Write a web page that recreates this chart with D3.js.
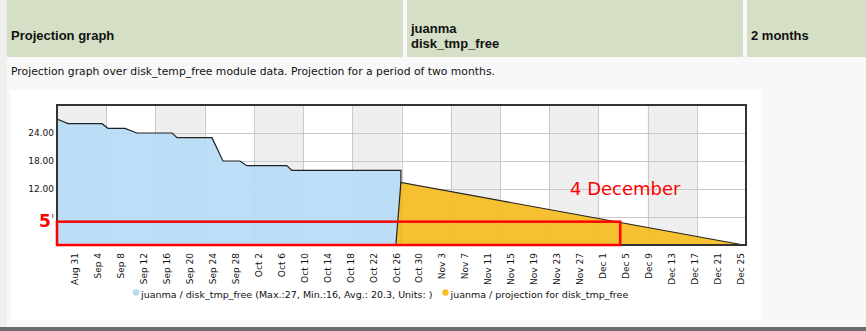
<!DOCTYPE html>
<html>
<head>
<meta charset="utf-8">
<script src="https://cdn.jsdelivr.net/npm/d3@7"></script>
<style>
  html, body { margin: 0; padding: 0; background: #f8f8f8; overflow: hidden; }
  svg { display: block; }
</style>
</head>
<body>
<svg id="chart" width="866" height="331"></svg>
<script>
// ---------- data ----------
const headerCells = ["Projection graph", "juanma\ndisk_tmp_free", "2 months"];
const description = "Projection graph over disk_temp_free module data. Projection for a period of two months.";

const realDates = ["2010-08-27T21:00","2010-08-29T19:00","2010-09-04T17:00","2010-09-05T18:00",
  "2010-09-08T17:00","2010-09-10T19:00","2010-09-16T22:00","2010-09-17T19:00",
  "2010-09-23T21:00","2010-09-25T19:00","2010-09-28T18:00","2010-09-29T23:00",
  "2010-10-06T22:00","2010-10-07T19:00","2010-10-26T19:00"];
const realValues = [27, 26, 26, 25, 25, 24, 24, 23, 23, 18, 18, 17, 17, 16, 16];

const projDates = ["2010-10-25T22:00", "2010-10-26T19:00", "2010-12-25T12:00"];
const projValues = [0, 13.4, 0];

const tickDates = ["2010-08-31","2010-09-04","2010-09-08","2010-09-12","2010-09-16","2010-09-20",
  "2010-09-24","2010-09-28","2010-10-02","2010-10-06","2010-10-10","2010-10-14","2010-10-18",
  "2010-10-22","2010-10-26","2010-10-30","2010-11-03","2010-11-07","2010-11-11","2010-11-15",
  "2010-11-19","2010-11-23","2010-11-27","2010-12-01","2010-12-05","2010-12-09","2010-12-13",
  "2010-12-17","2010-12-21","2010-12-25"];
const yTicks = [12, 18, 24];
const yMax = 30;
const yGrid = [6, 12, 18, 24];
const domainStart = "2010-08-27T21:00";
const domainEnd = "2010-12-25T22:00";
const gridBands = 14;

const seriesNames = ["juanma / disk_tmp_free (Max.:27, Min.:16, Avg.: 20.3, Units: )",
                     "juanma / projection for disk_tmp_free"];
const seriesColors = ["#b6dbf5", "#f6be26"];

const thresholdValue = 5;
const thresholdDate = "2010-12-04T00:00";
const thresholdLabel = "4 December";
const thresholdValueLabel = "5";

// ---------- drawing ----------
const parse = d3.isoParse;
const svg = d3.select("#chart");

// page background pieces
svg.append("rect").attr("x", 0).attr("y", 0).attr("width", 7).attr("height", 331).attr("fill", "#efefef");
svg.append("rect").attr("x", 0).attr("y", 327).attr("width", 866).attr("height", 4).attr("fill", "#6d6d6d");

// header cells
const cellX = [7, 407, 747];
const cellW = [396, 336, 130];
const hdr = svg.append("g");
headerCells.forEach((t, i) => {
  hdr.append("rect").attr("x", cellX[i]).attr("y", 0).attr("width", cellW[i]).attr("height", 57).attr("fill", "#d4dfc5");
  const lines = t.split("\n");
  const txt = hdr.append("text")
    .attr("font-family", "'Liberation Sans', Arial, sans-serif")
    .attr("font-weight", "bold").attr("font-size", 13).attr("fill", "#111");
  if (lines.length === 1) {
    txt.append("tspan").attr("x", cellX[i] + 4).attr("y", 40).text(lines[0]);
  } else {
    lines.forEach((l, j) => txt.append("tspan").attr("x", cellX[i] + 4).attr("y", 33 + j * 14.5).text(l));
  }
});

svg.append("text").attr("x", 11).attr("y", 75)
  .attr("font-family", "'DejaVu Sans', sans-serif").attr("font-size", 10.8).attr("fill", "#111")
  .text(description);

// chart white box
svg.append("rect").attr("x", 11).attr("y", 90).attr("width", 750).attr("height", 230).attr("fill", "#fff");

const plot = { left: 57, right: 746, top: 105, bottom: 245 };
const x = d3.scaleTime().domain([parse(domainStart), parse(domainEnd)]).range([plot.left, plot.right]);
const y = d3.scaleLinear().domain([0, yMax]).range([plot.bottom, plot.top]);

// alternating bands
const t0 = +parse(domainStart), t1 = +parse(domainEnd);
const bandEdges = d3.range(gridBands + 1).map(i => new Date(t0 + i * (t1 - t0) / gridBands));
svg.append("g").selectAll("rect").data(d3.range(gridBands).filter(i => i % 2 === 0)).join("rect")
  .attr("x", i => x(bandEdges[i])).attr("y", plot.top)
  .attr("width", i => x(bandEdges[i + 1]) - x(bandEdges[i])).attr("height", plot.bottom - plot.top)
  .attr("fill", "#efefef");

// grid lines
const grid = svg.append("g").attr("stroke", "#c9c9c9").attr("stroke-width", 1);
bandEdges.slice(1, -1).forEach(d => grid.append("line")
  .attr("x1", Math.round(x(d)) + 0.5).attr("x2", Math.round(x(d)) + 0.5)
  .attr("y1", plot.top).attr("y2", plot.bottom));
yGrid.forEach(v => grid.append("line")
  .attr("x1", plot.left).attr("x2", plot.right)
  .attr("y1", Math.round(y(v)) + 0.5).attr("y2", Math.round(y(v)) + 0.5));

// series
const real = realDates.map((d, i) => ({ date: parse(d), value: realValues[i] }));
const proj = projDates.map((d, i) => ({ date: parse(d), value: projValues[i] }));

const area = d3.area().x(d => x(d.date)).y0(y(0)).y1(d => y(d.value));
const line = d3.line().x(d => x(d.date)).y(d => y(d.value));

svg.append("path").datum(real).attr("d", area).attr("fill", seriesColors[0]).attr("fill-opacity", 0.92);
svg.append("path").datum([...real, { date: real[real.length - 1].date, value: 0 }]).attr("d", line)
  .attr("fill", "none").attr("stroke", "#222").attr("stroke-width", 1.2);
svg.append("path").datum(proj).attr("d", area).attr("fill", seriesColors[1]).attr("fill-opacity", 0.95);
svg.append("path").datum(proj).attr("d", line)
  .attr("fill", "none").attr("stroke", "#222").attr("stroke-width", 1.2);

// frame
svg.append("rect").attr("x", plot.left).attr("y", plot.top)
  .attr("width", plot.right - plot.left).attr("height", plot.bottom - plot.top)
  .attr("fill", "none").attr("stroke", "#333").attr("stroke-width", 2);

// y labels
svg.append("g").selectAll("text").data(yTicks).join("text")
  .attr("x", 54).attr("y", d => y(d)).attr("dy", "0.35em")
  .attr("text-anchor", "end").attr("font-family", "'DejaVu Sans', sans-serif")
  .attr("font-size", 9).attr("fill", "#111")
  .text(d => d.toFixed(2));

// x labels
const fmt = d3.timeFormat("%b %-d");
svg.append("g").selectAll("text").data(tickDates.map(parse)).join("text")
  .attr("transform", d => `translate(${x(d)},253) rotate(-90)`)
  .attr("dy", "0.35em").attr("text-anchor", "end")
  .attr("font-family", "'DejaVu Sans', sans-serif").attr("font-size", 9).attr("fill", "#111")
  .text(d => fmt(d));

// threshold annotations
svg.append("text").attr("x", 39).attr("y", 226.5)
  .attr("font-family", "'DejaVu Sans', sans-serif").attr("font-weight", "bold").attr("font-size", 17)
  .attr("fill", "#ff0000").text(thresholdValueLabel);
// remnant of the hidden axis label next to the "5"
svg.append("path").attr("d", `M52.5,${y(6) - 3} q1,2 0,4`)
  .attr("fill", "none").attr("stroke", "#333").attr("stroke-width", 0.8);
svg.append("rect").attr("x", x(parse(domainStart))).attr("y", y(thresholdValue))
  .attr("width", x(parse(thresholdDate)) - x(parse(domainStart)))
  .attr("height", y(0) - y(thresholdValue))
  .attr("fill", "none").attr("stroke", "#ff0000").attr("stroke-width", 2.5);
svg.append("text").attr("x", 570).attr("y", 195)
  .attr("font-family", "'DejaVu Sans', sans-serif").attr("font-size", 18)
  .attr("fill", "#ff0000").text(thresholdLabel);

// legend
const legX = [136, 445.5];
seriesNames.forEach((n, i) => {
  svg.append("circle").attr("cx", legX[i]).attr("cy", 292.5).attr("r", 3.2).attr("fill", seriesColors[i]);
  svg.append("text").attr("x", legX[i] + 5).attr("y", 298)
    .attr("font-family", "'DejaVu Sans', sans-serif").attr("font-size", 9.5).attr("fill", "#111")
    .text(n);
});
</script>
</body>
</html>
